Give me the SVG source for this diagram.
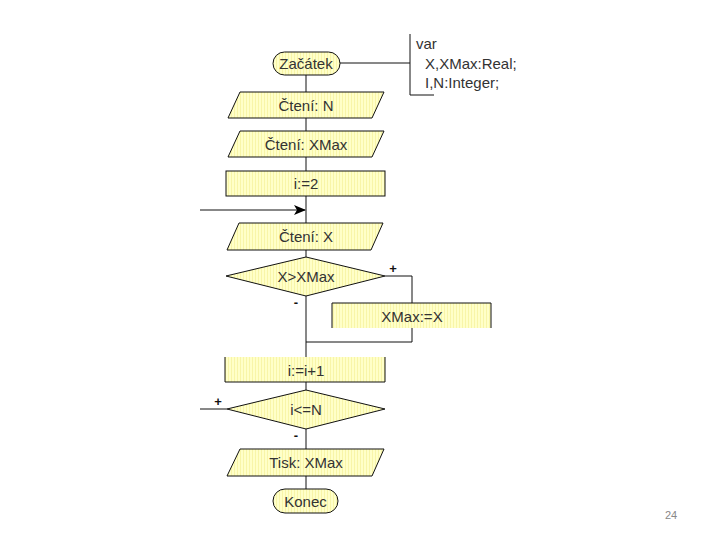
<svg xmlns="http://www.w3.org/2000/svg" width="720" height="540" viewBox="0 0 720 540">
<defs>
<pattern id="stripe" width="3" height="3" patternUnits="userSpaceOnUse">
<rect width="3" height="3" fill="#FFFFC8"/>
<rect width="1" height="3" fill="#F8F5A8"/>
</pattern>
<marker id="arr" markerWidth="12" markerHeight="10" refX="11" refY="5" orient="auto" markerUnits="userSpaceOnUse">
<path d="M0,0 L12,5 L0,10 L3,5 Z" fill="#000"/>
</marker>
</defs>
<style>
.shape{fill:url(#stripe);stroke:#111;stroke-width:1}
.open{fill:url(#stripe);stroke:none}
.edge{fill:none;stroke:#111;stroke-width:1}
.t{font-family:"Liberation Sans",Arial,sans-serif;font-size:15px;fill:#333;text-anchor:middle;dominant-baseline:central}
.l{font-family:"Liberation Sans",Arial,sans-serif;font-size:15px;fill:#333}
.s{font-family:"Liberation Sans",Arial,sans-serif;font-size:13px;font-weight:bold;fill:#111;text-anchor:middle;dominant-baseline:central}
</style>
<rect width="720" height="540" fill="#fff"/>
<g id="connectors">
<path class="edge" d="M306,63 V409"/>
<path class="edge" d="M306,409 V500"/>
<path class="edge" d="M340,63 H410"/>
<path class="edge" d="M410,34 V95 H434"/>
<path class="edge" d="M200,210 H305" marker-end="url(#arr)"/>
<path class="edge" d="M385,276 H412 V303"/>
<path class="edge" d="M412,328 V342 H306"/>
<path class="edge" d="M200,409 H227"/>
</g>
<g id="start">
<rect class="shape" x="273" y="52" width="67" height="23" rx="11.5"/>
<text class="t" x="306" y="63.5">Začátek</text>
</g>
<g id="declaration">
<text class="l" x="416" y="49">var</text>
<text class="l" x="425" y="69">X,XMax:Real;</text>
<text class="l" x="425" y="88">I,N:Integer;</text>
</g>
<g id="readN">
<polygon class="shape" points="240,92 384,92 372,118 228,118"/>
<text class="t" x="306" y="105">Čtení: N</text>
</g>
<g id="readXMax">
<polygon class="shape" points="240,131 384,131 372,157 228,157"/>
<text class="t" x="306" y="144">Čtení: XMax</text>
</g>
<g id="init">
<rect class="shape" x="226" y="171" width="159" height="25"/>
<text class="t" x="306" y="183.5">i:=2</text>
</g>
<g id="readX">
<polygon class="shape" points="239,223 383,223 371,250 227,250"/>
<text class="t" x="306" y="236.5">Čtení: X</text>
</g>
<g id="cond1">
<polygon class="shape" points="306,257 385,276 306,296 226,276"/>
<text class="t" x="306" y="276">X&gt;XMax</text>
<text class="s" x="393" y="268">+</text>
<text class="s" x="296" y="302">-</text>
</g>
<g id="assign">
<rect class="open" x="332" y="303" width="159" height="25"/>
<path class="edge" d="M332,328 V303 H491 V328"/>
<text class="t" x="412" y="316">XMax:=X</text>
</g>
<g id="incr">
<rect class="open" x="225" y="357" width="160" height="25"/>
<path class="edge" d="M225,357 V382 H385 V357"/>
<text class="t" x="306" y="370">i:=i+1</text>
</g>
<g id="cond2">
<polygon class="shape" points="306,390 385,409 306,429 227,409"/>
<text class="t" x="306" y="409.5">i&lt;=N</text>
<text class="s" x="218" y="401">+</text>
<text class="s" x="296" y="435">-</text>
</g>
<g id="print">
<polygon class="shape" points="240,449 384,449 372,476 227,476"/>
<text class="t" x="306" y="462.5">Tisk: XMax</text>
</g>
<g id="end">
<rect class="shape" x="273" y="489" width="65" height="24" rx="12"/>
<text class="t" x="305.5" y="501.5">Konec</text>
</g>
<text x="671" y="519" font-family="Liberation Sans,Arial,sans-serif" font-size="11" fill="#888" text-anchor="middle">24</text>
</svg>
